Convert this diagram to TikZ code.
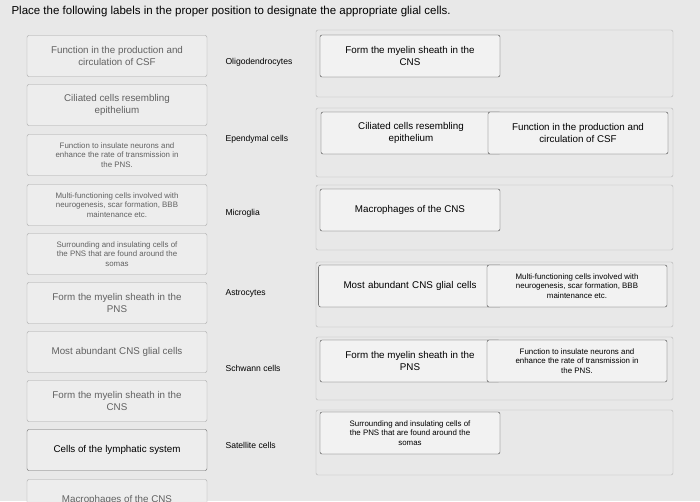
\documentclass[tikz,border=0pt]{standalone}
\usepackage{fontspec}
\setmainfont{Liberation Sans}
\begin{document}
\begin{tikzpicture}[x=1pt,y=-1pt,
  src/.style={draw=black!35,fill=white!93!black,rounded corners=2pt,minimum width=180pt,minimum height=41pt,text=black!62,align=center,font=\fontsize{9.8}{11.5}\selectfont},
  srcsmall/.style={src,font=\fontsize{7.9}{9.6}\selectfont},
  cellname/.style={anchor=west,font=\fontsize{8.6}{10}\selectfont},
  zone/.style={draw=black!30,rounded corners=2pt},
  tag/.style={draw=black!75,fill=white!95!black,rounded corners=2pt,minimum width=180pt,minimum height=42pt,align=center,font=\fontsize{9.8}{11.5}\selectfont},
  tagsmall/.style={tag,font=\fontsize{7.9}{9.6}\selectfont}]

\clip (0,0) rectangle (700,501);
\fill[white!91!black] (0,0) rectangle (700,501);

\node[anchor=west,font=\fontsize{11.5}{13}\selectfont] (title) at (8,12) {Place the following labels in the proper position to designate the appropriate glial cells.};

% labels still to be placed
\node[src] (s1) at (117,56) {Function in the production and\\circulation of CSF};
\node[src] (s2) at (117,105) {Ciliated cells resembling\\epithelium};
\node[srcsmall] (s3) at (117,155) {Function to insulate neurons and\\enhance the rate of transmission in\\the PNS.};
\node[srcsmall] (s4) at (117,205) {Multi-functioning cells involved with\\neurogenesis, scar formation, BBB\\maintenance etc.};
\node[srcsmall] (s5) at (117,254) {Surrounding and insulating cells of\\the PNS that are found around the\\somas};
\node[src] (s6) at (117,303) {Form the myelin sheath in the\\PNS};
\node[src] (s7) at (117,352) {Most abundant CNS glial cells};
\node[src] (s8) at (117,401) {Form the myelin sheath in the\\CNS};
\node[src,draw=black!60,text=black] (s9) at (117,450) {Cells of the lymphatic system};
\node[src] (s10) at (117,500) {Macrophages of the CNS};

% cell types
\node[cellname] (oligo) at (222,62) {Oligodendrocytes};
\node[cellname] (epend) at (222,139) {Ependymal cells};
\node[cellname] (micro) at (222,213) {Microglia};
\node[cellname] (astro) at (222,293) {Astrocytes};
\node[cellname] (schw) at (222,368) {Schwann cells};
\node[cellname] (sat) at (222,445) {Satellite cells};

% drop zones
\foreach \t/\b in {30/97,108/177,185/250,262/327,337/400,410/475}{
  \draw[zone] (316,\t) rectangle (673,\b);}

% placed labels
\node[tag] (z1) at (410,56) {Form the myelin sheath in the\\CNS};
\node[tag] (z2a) at (411,133) {Ciliated cells resembling\\epithelium};
\node[tag] (z2b) at (578,133) {Function in the production and\\circulation of CSF};
\node[tag] (z3) at (410,210) {Macrophages of the CNS};
\node[tag,text width=176pt,align=center] (z4a) at (410,286) {Most abundant CNS glial cells};
\node[tagsmall] (z4b) at (577,286) {Multi-functioning cells involved with\\neurogenesis, scar formation, BBB\\maintenance etc.};
\node[tag] (z5a) at (410,361) {Form the myelin sheath in the\\PNS};
\node[tagsmall] (z5b) at (577,361) {Function to insulate neurons and\\enhance the rate of transmission in\\the PNS.};
\node[tagsmall] (z6) at (410,433) {Surrounding and insulating cells of\\the PNS that are found around the\\somas};

\end{tikzpicture}
\end{document}
